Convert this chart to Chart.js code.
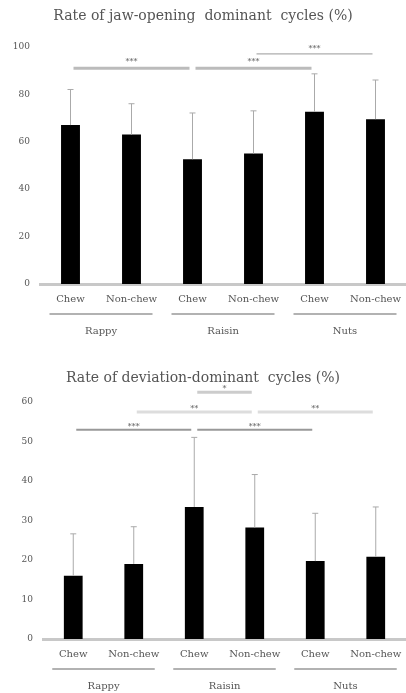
<!DOCTYPE html>
<html>
<head>
<meta charset="utf-8">
<script src="https://cdn.jsdelivr.net/npm/chart.js@4"></script>
<style>
  body { margin: 0; background: #fff; }
  canvas { display: block; }
</style>
</head>
<body>
<canvas id="jawChart" width="406" height="340"></canvas>
<canvas id="devChart" width="406" height="353"></canvas>
<script>
const categories = ["Chew", "Non-chew", "Chew", "Non-chew", "Chew", "Non-chew"];
const groups = ["Rappy", "Raisin", "Nuts"];

// Rate of jaw-opening dominant cycles (%)
const jawMeans = [67, 63, 52.6, 55, 72.6, 69.5];
const jawSD = [15, 13, 19.5, 18, 16, 16.5];
const jawTicks = [0, 20, 40, 60, 80, 100];
// [from bar, to bar, height, label]
const jawSig = [[0, 2, 91, "***"], [2, 4, 91, "***"], [3, 5, 97, "***"]];

// Rate of deviation-dominant cycles (%)
const devMeans = [16, 19, 33.4, 28.2, 19.7, 20.8];
const devSD = [10.6, 9.4, 17.6, 13.4, 12.1, 12.6];
const devTicks = [0, 10, 20, 30, 40, 50, 60];
const devSig = [[0, 2, 52.9, "***"], [2, 4, 52.9, "***"], [1, 3, 57.4, "**"], [3, 5, 57.4, "**"], [2, 3, 62.4, "*"]];

const serif = "'DejaVu Serif', 'Liberation Serif', serif";
const textGrey = "#555";

const extrasPlugin = {
    id: 'extras',
    afterDatasetsDraw(chart, args, opts) {
        const ctx = chart.ctx;
        const x = chart.scales.x;
        const y = chart.scales.y;
        const meta = chart.getDatasetMeta(0);
        ctx.save();
        // error bars, upper side only
        ctx.strokeStyle = "#aaa";
        ctx.lineWidth = 1;
        meta.data.forEach((bar, i) => {
            const top = y.getPixelForValue(opts.means[i] + opts.sd[i]);
            ctx.beginPath();
            ctx.moveTo(bar.x, bar.y);
            ctx.lineTo(bar.x, top);
            ctx.moveTo(bar.x - 3, top);
            ctx.lineTo(bar.x + 3, top);
            ctx.stroke();
        });
        // significance lines
        opts.sig.forEach((s, i) => {
            const st = opts.sigStyles[i];
            const x1 = x.getPixelForValue(s[0]) + 3;
            const x2 = x.getPixelForValue(s[1]) - 3;
            const yy = y.getPixelForValue(s[2]);
            ctx.strokeStyle = st.color;
            ctx.lineWidth = st.width;
            ctx.beginPath();
            ctx.moveTo(x1, yy);
            ctx.lineTo(x2, yy);
            ctx.stroke();
            ctx.fillStyle = textGrey;
            ctx.font = "8px " + serif;
            ctx.textAlign = "center";
            ctx.textBaseline = "bottom";
            ctx.fillText(s[3], (x1 + x2) / 2, yy + st.textShift);
        });
        ctx.restore();
    },
    afterDraw(chart, args, opts) {
        const ctx = chart.ctx;
        const x = chart.scales.x;
        const base = chart.chartArea.bottom;
        ctx.save();
        groups.forEach((g, i) => {
            const a = x.getPixelForValue(i * 2);
            const b = x.getPixelForValue(i * 2 + 1);
            ctx.strokeStyle = "#999";
            ctx.lineWidth = 1.5;
            ctx.beginPath();
            ctx.moveTo(a - 21, base + opts.lineGap);
            ctx.lineTo(b + 21, base + opts.lineGap);
            ctx.stroke();
            ctx.fillStyle = textGrey;
            ctx.font = "10px " + serif;
            ctx.textAlign = "center";
            ctx.textBaseline = "middle";
            ctx.fillText(g, (a + b) / 2, base + opts.labelGap);
        });
        ctx.restore();
    }
};

function makeChart(id, title, means, sd, ticks, sig, sigStyles, yWidth, titlePad, xHeight) {
    return new Chart(document.getElementById(id), {
        type: 'bar',
        data: {
            labels: categories,
            datasets: [{
                data: means,
                backgroundColor: "#000",
                barPercentage: 0.31,
                categoryPercentage: 1
            }]
        },
        options: {
            responsive: false,
            animation: false,
            layout: { padding: 0 },
            plugins: {
                legend: { display: false },
                tooltip: { enabled: false },
                title: {
                    display: true,
                    text: title,
                    color: "#555",
                    font: { family: serif, size: 14, weight: 'normal' },
                    padding: titlePad
                },
                extras: {
                    means: means,
                    sd: sd,
                    sig: sig,
                    sigStyles: sigStyles,
                    lineGap: 30,
                    labelGap: 47
                }
            },
            scales: {
                x: {
                    grid: { display: false, drawTicks: false },
                    border: { display: true, color: "#c8c8c8", width: 3 },
                    ticks: {
                        color: textGrey,
                        font: { family: serif, size: 10 },
                        padding: 9,
                        maxRotation: 0,
                        autoSkip: false
                    },
                    afterFit: s => {
                        s.height = xHeight;
                        s.paddingLeft = 0;
                        s.paddingRight = 0;
                    }
                },
                y: {
                    min: ticks[0],
                    max: ticks[ticks.length - 1],
                    afterBuildTicks: s => { s.ticks = ticks.map(v => ({ value: v })); },
                    grid: { display: false, drawTicks: false },
                    border: { display: false },
                    ticks: {
                        color: textGrey,
                        font: { family: serif, size: 9 },
                        padding: 10
                    },
                    afterFit: s => { s.width = yWidth; }
                }
            }
        },
        plugins: [extrasPlugin]
    });
}

const jawStyles = [
    { color: "#bbb", width: 3, textShift: -2 },
    { color: "#bbb", width: 3, textShift: -2 },
    { color: "#999", width: 1, textShift: -1 }
];
const devStyles = [
    { color: "#999", width: 2, textShift: 1 },
    { color: "#999", width: 2, textShift: 1 },
    { color: "#ddd", width: 3, textShift: 1 },
    { color: "#ddd", width: 3, textShift: 1 },
    { color: "#ccc", width: 3, textShift: 1 }
];

makeChart('jawChart', "Rate of jaw-opening  dominant  cycles (%)", jawMeans, jawSD, jawTicks, jawSig, jawStyles,
    40, { top: 8, bottom: 22 }, 56);
makeChart('devChart', "Rate of deviation-dominant  cycles (%)", devMeans, devSD, devTicks, devSig, devStyles,
    43, { top: 30, bottom: 15 }, 54);
</script>
</body>
</html>
